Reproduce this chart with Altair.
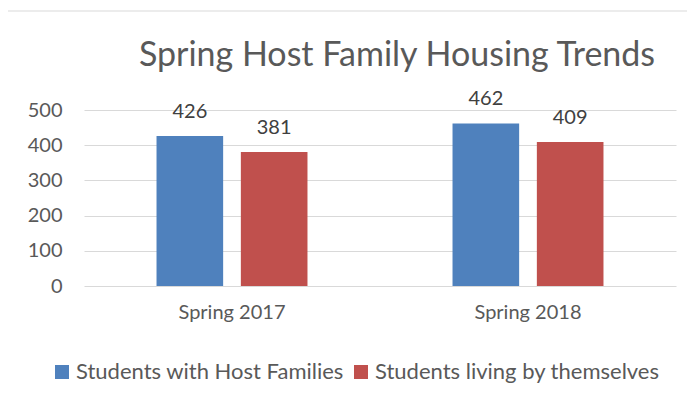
import altair as alt
import pandas as pd

title_text = "Spring Host Family Housing Trends"
categories = ["Spring 2017", "Spring 2018"]
series = ["Students with Host Families", "Students living by themselves"]
host_values = [426, 462]
self_values = [381, 409]
y_ticks = [0, 100, 200, 300, 400, 500]
colors = ["#4F81BD", "#C0504D"]

rows = []
for i, c in enumerate(categories):
    rows.append({"period": c, "group": series[0], "value": host_values[i]})
    rows.append({"period": c, "group": series[1], "value": self_values[i]})
df = pd.DataFrame(rows)

FONT = "Lato"

x_axis = alt.Axis(labelAngle=0, labelFontSize=20, labelFont=FONT,
                  labelColor="#595959", labelPadding=16,
                  domain=False, ticks=False, grid=False)
y_axis = alt.Axis(values=y_ticks, labelFontSize=20, labelOverlap=False,
                  labelFont=FONT, labelColor="#595959", labelPadding=22,
                  domain=False, ticks=False, grid=True,
                  gridColor="#D9D9D9", gridWidth=1)
x_scale = alt.Scale(paddingInner=0.49, paddingOuter=0.245)
xoff = alt.XOffset("group:N", sort=series,
                   scale=alt.Scale(paddingInner=0.21, paddingOuter=0))
y_scale = alt.Scale(domain=[0, 500], nice=False)

base = alt.Chart(df)

bars = base.mark_bar().encode(
    x=alt.X("period:N", sort=categories, title=None, scale=x_scale, axis=x_axis),
    xOffset=xoff,
    y=alt.Y("value:Q", title=None, scale=y_scale, axis=y_axis),
    color=alt.Color("group:N", sort=series,
                    scale=alt.Scale(domain=series, range=colors),
                    legend=alt.Legend(title=None, orient="none", direction="horizontal",
                                      legendX=-33, legendY=251,
                                      symbolType="square", symbolSize=196,
                                      symbolStrokeWidth=0, symbolOpacity=1,
                                      labelFontSize=22, labelFont=FONT,
                                      labelColor="#595959", labelOffset=3,
                                      labelLimit=0,
                                      columnPadding=6, padding=0)),
)

labels = base.mark_text(baseline="alphabetic", dy=-18, fontSize=20, font=FONT,
                        color="#404040").encode(
    x=alt.X("period:N", sort=categories, title=None, scale=x_scale, axis=x_axis),
    xOffset=xoff,
    y=alt.Y("value:Q", title=None, scale=y_scale, axis=y_axis),
    text=alt.Text("value:Q"),
)

frame = alt.Chart(pd.DataFrame({"t": [title_text]}))
top_border = frame.mark_rule(color="#D9D9D9", strokeWidth=1).encode(
    x=alt.value(-77), x2=alt.value(700), y=alt.value(-99))
left_border = frame.mark_rule(color="#D9D9D9", strokeWidth=1).encode(
    x=alt.value(-77), y=alt.value(-99), y2=alt.value(400))
title = frame.mark_text(fontSize=34, font=FONT, color="#595959", align="center",
                        baseline="alphabetic").encode(
    x=alt.value(313), y=alt.value(-44), text="t:N")

chart = alt.layer(top_border, left_border, title, bars, labels).properties(
    width=592, height=176,
    padding={"left": 76, "top": 102, "right": 11, "bottom": 100},
    autosize=alt.AutoSizeParams(type="none"),
    background="white",
).configure_view(stroke=None)

chart.save("out.html", embed_options={"renderer": "svg", "actions": False})
